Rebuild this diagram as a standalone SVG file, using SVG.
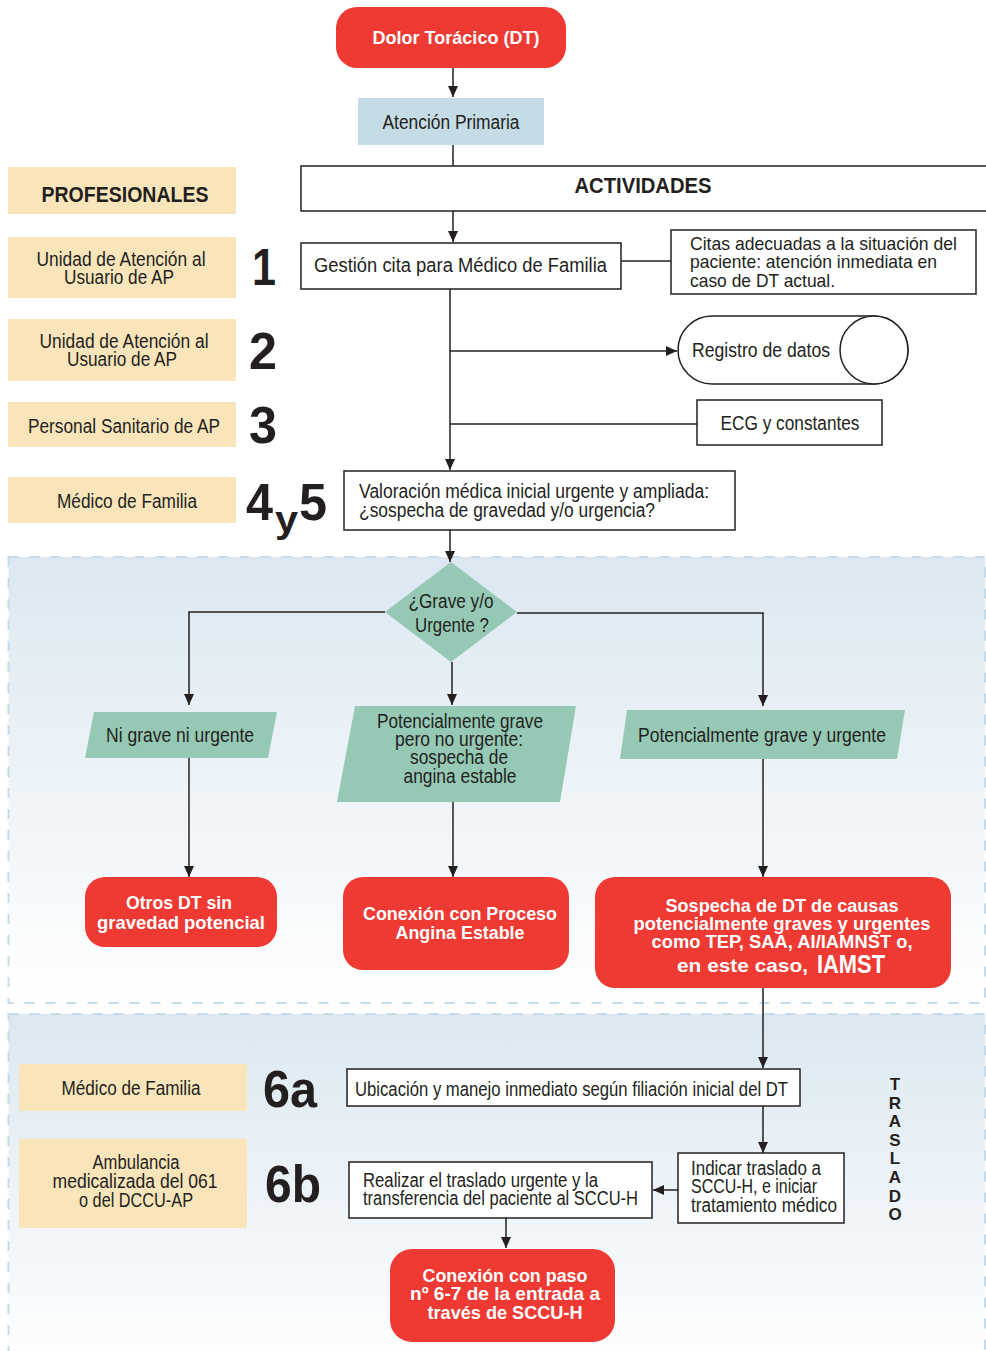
<svg xmlns="http://www.w3.org/2000/svg" width="986" height="1351" viewBox="0 0 986 1351">
<style>
.t{font-family:"Liberation Sans Narrow","Liberation Sans",Arial,sans-serif;font-size:20px;fill:#231f20}
.c{text-anchor:middle}
.bw{font-family:"Liberation Sans",Arial,sans-serif;font-weight:bold;font-size:19px;fill:#fff;text-anchor:middle}
.hb{font-family:"Liberation Sans",Arial,sans-serif;font-weight:bold;font-size:22px;fill:#231f20;text-anchor:middle}
.num{font-family:"Liberation Sans",Arial,sans-serif;font-weight:bold;font-size:52px;fill:#231f20}
.box{fill:#fff;stroke:#231f20;stroke-width:1.5}
.prof{fill:#fae5bb}
.red{fill:#ee3a33}
.green{fill:#96c9b5}
.ln{stroke:#231f20;stroke-width:1.5;fill:none}
.panel{stroke:#c4dce9;stroke-width:2;stroke-dasharray:10 11}
</style>
<defs>
<marker id="ar" markerUnits="userSpaceOnUse" markerWidth="12" markerHeight="10" refX="11" refY="5" orient="auto">
<path d="M0,0 L11,5 L0,10 z" fill="#231f20"/>
</marker>
<linearGradient id="bg" x1="0" y1="0" x2="0" y2="1">
<stop offset="0" stop-color="#dbe8f1"/>
<stop offset="1" stop-color="#ffffff"/>
</linearGradient>
</defs>
<rect width="986" height="1351" fill="#fff"/>
<g id="panels">
<rect class="panel" x="8.5" y="557" width="976.5" height="446" fill="url(#bg)"/>
<rect class="panel" x="8.5" y="1014" width="976.5" height="360" fill="url(#bg)"/>
</g>
<g id="connectors">
<path class="ln" d="M453,68 V97" marker-end="url(#ar)"/>
<path class="ln" d="M453,145 V166"/>
<path class="ln" d="M453,211 V242" marker-end="url(#ar)"/>
<path class="ln" d="M450,289 V470" marker-end="url(#ar)"/>
<path class="ln" d="M450,351 H677" marker-end="url(#ar)"/>
<path class="ln" d="M450,424 H697"/>
<path class="ln" d="M621,261 H671"/>
<path class="ln" d="M450,530 V562" marker-end="url(#ar)"/>
<path class="ln" d="M385,612 H189 V705" marker-end="url(#ar)"/>
<path class="ln" d="M517,613 H763 V706" marker-end="url(#ar)"/>
<path class="ln" d="M452,662 V705" marker-end="url(#ar)"/>
<path class="ln" d="M189,758 V877" marker-end="url(#ar)"/>
<path class="ln" d="M453,802 V877" marker-end="url(#ar)"/>
<path class="ln" d="M763,759 V877" marker-end="url(#ar)"/>
<path class="ln" d="M763,988 V1068" marker-end="url(#ar)"/>
<path class="ln" d="M763,1106 V1153" marker-end="url(#ar)"/>
<path class="ln" d="M678,1190 H653" marker-end="url(#ar)"/>
<path class="ln" d="M506,1218 V1248" marker-end="url(#ar)"/>
</g>
<g id="n-dolor">
<rect class="red" x="336" y="7" width="230" height="61" rx="21"/>
<text class="bw" x="456" y="44" textLength="167" lengthAdjust="spacingAndGlyphs">Dolor Torácico (DT)</text>
</g>
<g id="n-ap">
<rect x="358" y="98" width="186" height="47" fill="#c5dce6"/>
<text class="t c" x="451" y="129" textLength="137" lengthAdjust="spacingAndGlyphs">Atención Primaria</text>
</g>
<g id="n-actividades">
<rect class="box" x="301" y="166" width="700" height="45"/>
<text class="hb" x="643" y="193" textLength="137" lengthAdjust="spacingAndGlyphs">ACTIVIDADES</text>
</g>
<g id="n-profesionales">
<rect class="prof" x="8" y="167" width="228" height="47"/>
<text class="hb" x="125" y="202" textLength="167" lengthAdjust="spacingAndGlyphs">PROFESIONALES</text>
</g>
<g id="p1">
<rect class="prof" x="8" y="237" width="228" height="61"/>
<text class="t c" x="121" y="266" textLength="169" lengthAdjust="spacingAndGlyphs">Unidad de Atención al</text>
<text class="t c" x="119" y="284" textLength="110" lengthAdjust="spacingAndGlyphs">Usuario de AP</text>
<text class="num" x="252" y="285" textLength="24" lengthAdjust="spacingAndGlyphs">1</text>
</g>
<g id="p2">
<rect class="prof" x="8" y="319" width="228" height="62"/>
<text class="t c" x="124" y="348" textLength="169" lengthAdjust="spacingAndGlyphs">Unidad de Atención al</text>
<text class="t c" x="122" y="366" textLength="110" lengthAdjust="spacingAndGlyphs">Usuario de AP</text>
<text class="num" x="249" y="369" textLength="28" lengthAdjust="spacingAndGlyphs">2</text>
</g>
<g id="p3">
<rect class="prof" x="8" y="402" width="228" height="45"/>
<text class="t c" x="124" y="433" textLength="192" lengthAdjust="spacingAndGlyphs">Personal Sanitario de AP</text>
<text class="num" x="249" y="443" textLength="28" lengthAdjust="spacingAndGlyphs">3</text>
</g>
<g id="p4">
<rect class="prof" x="8" y="477" width="228" height="46"/>
<text class="t c" x="127" y="508" textLength="140" lengthAdjust="spacingAndGlyphs">Médico de Familia</text>
<text class="num" x="246" y="520" textLength="27" lengthAdjust="spacingAndGlyphs">4</text>
<text class="num" x="275" y="532" style="font-size:36px" textLength="23" lengthAdjust="spacingAndGlyphs">y</text>
<text class="num" x="299" y="520" textLength="28" lengthAdjust="spacingAndGlyphs">5</text>
</g>
<g id="n-gestion">
<rect class="box" x="301" y="243" width="320" height="46"/>
<text class="t" x="314" y="272" textLength="293" lengthAdjust="spacingAndGlyphs">Gestión cita para Médico de Familia</text>
</g>
<g id="n-citas">
<rect class="box" x="671" y="230" width="305" height="64"/>
<text class="t" x="690" y="250" style="font-size:19px" textLength="267" lengthAdjust="spacingAndGlyphs">Citas adecuadas a la situación del</text>
<text class="t" x="690" y="268" style="font-size:19px" textLength="247" lengthAdjust="spacingAndGlyphs">paciente: atención inmediata en</text>
<text class="t" x="690" y="287" style="font-size:19px" textLength="145" lengthAdjust="spacingAndGlyphs">caso de DT actual.</text>
</g>
<g id="n-registro">
<rect class="box" x="678" y="316" width="230" height="68" rx="34"/>
<circle class="box" cx="874" cy="350" r="34"/>
<text class="t" x="692" y="357" textLength="138" lengthAdjust="spacingAndGlyphs">Registro de datos</text>
</g>
<g id="n-ecg">
<rect class="box" x="697" y="400" width="185" height="45"/>
<text class="t c" x="790" y="430" textLength="139" lengthAdjust="spacingAndGlyphs">ECG y constantes</text>
</g>
<g id="n-valoracion">
<rect class="box" x="344" y="471" width="391" height="59"/>
<text class="t" x="359" y="498" textLength="350" lengthAdjust="spacingAndGlyphs">Valoración médica inicial urgente y ampliada:</text>
<text class="t" x="359" y="517" textLength="296" lengthAdjust="spacingAndGlyphs">¿sospecha de gravedad y/o urgencia?</text>
</g>
<g id="n-grave">
<polygon class="green" points="451,562 517,612 451,662 385,612"/>
<text class="t c" x="451" y="608" textLength="85" lengthAdjust="spacingAndGlyphs">¿Grave y/o</text>
<text class="t c" x="452" y="632" textLength="74" lengthAdjust="spacingAndGlyphs">Urgente ?</text>
</g>
<g id="n-ni">
<polygon class="green" points="94,712 277,712 268,758 85,758"/>
<text class="t c" x="180" y="742" textLength="148" lengthAdjust="spacingAndGlyphs">Ni grave ni urgente</text>
</g>
<g id="n-pot-no">
<polygon class="green" points="355,706 576,706 560,802 337,802"/>
<text class="t c" x="460" y="728" textLength="166" lengthAdjust="spacingAndGlyphs">Potencialmente grave</text>
<text class="t c" x="459" y="746" textLength="128" lengthAdjust="spacingAndGlyphs">pero no urgente:</text>
<text class="t c" x="459" y="764" textLength="98" lengthAdjust="spacingAndGlyphs">sospecha de</text>
<text class="t c" x="460" y="783" textLength="113" lengthAdjust="spacingAndGlyphs">angina estable</text>
</g>
<g id="n-pot-urg">
<polygon class="green" points="627,710 905,710 897,759 620,759"/>
<text class="t c" x="762" y="742" textLength="248" lengthAdjust="spacingAndGlyphs">Potencialmente grave y urgente</text>
</g>
<g id="n-otros">
<rect class="red" x="85" y="877" width="192" height="70" rx="20"/>
<text class="bw" x="179" y="909" textLength="106" lengthAdjust="spacingAndGlyphs">Otros DT sin</text>
<text class="bw" x="181" y="929" textLength="168" lengthAdjust="spacingAndGlyphs">gravedad potencial</text>
</g>
<g id="n-angina">
<rect class="red" x="343" y="877" width="226" height="93" rx="20"/>
<text class="bw" x="460" y="920" textLength="194" lengthAdjust="spacingAndGlyphs">Conexión con Proceso</text>
<text class="bw" x="460" y="939" textLength="129" lengthAdjust="spacingAndGlyphs">Angina Estable</text>
</g>
<g id="n-sospecha">
<rect class="red" x="595" y="877" width="356" height="111" rx="20"/>
<text class="bw" x="782" y="912" textLength="233" lengthAdjust="spacingAndGlyphs">Sospecha de DT de causas</text>
<text class="bw" x="782" y="930" textLength="297" lengthAdjust="spacingAndGlyphs">potencialmente graves y urgentes</text>
<text class="bw" x="782" y="948" textLength="261" lengthAdjust="spacingAndGlyphs">como TEP, SAA, AI/IAMNST o,</text>
<text class="bw" x="677" y="972" style="text-anchor:start" textLength="131" lengthAdjust="spacingAndGlyphs">en este caso,</text>
<text class="bw" x="817" y="973" style="text-anchor:start;font-size:26px" textLength="68" lengthAdjust="spacingAndGlyphs">IAMST</text>
</g>
<g id="p6a">
<rect class="prof" x="19" y="1064" width="228" height="47"/>
<text class="t c" x="131" y="1095" textLength="139" lengthAdjust="spacingAndGlyphs">Médico de Familia</text>
<text class="num" x="263" y="1107" textLength="54" lengthAdjust="spacingAndGlyphs">6a</text>
</g>
<g id="p6b">
<rect class="prof" x="19" y="1139" width="228" height="89"/>
<text class="t c" x="136" y="1169" textLength="87" lengthAdjust="spacingAndGlyphs">Ambulancia</text>
<text class="t c" x="135" y="1188" textLength="165" lengthAdjust="spacingAndGlyphs">medicalizada del 061</text>
<text class="t c" x="136" y="1207" textLength="114" lengthAdjust="spacingAndGlyphs">o del DCCU-AP</text>
<text class="num" x="265" y="1202" textLength="56" lengthAdjust="spacingAndGlyphs">6b</text>
</g>
<g id="n-ubicacion">
<rect class="box" x="347" y="1069" width="453" height="37"/>
<text class="t" x="355" y="1096" textLength="433" lengthAdjust="spacingAndGlyphs">Ubicación y manejo inmediato según filiación inicial del DT</text>
</g>
<g id="n-indicar">
<rect class="box" x="678" y="1153" width="166" height="70"/>
<text class="t" x="691" y="1175" textLength="130" lengthAdjust="spacingAndGlyphs">Indicar traslado a</text>
<text class="t" x="691" y="1193" textLength="126" lengthAdjust="spacingAndGlyphs">SCCU-H, e iniciar</text>
<text class="t" x="691" y="1212" textLength="146" lengthAdjust="spacingAndGlyphs">tratamiento médico</text>
</g>
<g id="n-realizar">
<rect class="box" x="349" y="1162" width="303" height="56"/>
<text class="t" x="363" y="1187" textLength="235" lengthAdjust="spacingAndGlyphs">Realizar el traslado urgente y la</text>
<text class="t" x="363" y="1205" textLength="275" lengthAdjust="spacingAndGlyphs">transferencia del paciente al SCCU-H</text>
</g>
<g id="n-conexion-paso">
<rect class="red" x="390" y="1249" width="225" height="93" rx="22"/>
<text class="bw" x="505" y="1282" textLength="165" lengthAdjust="spacingAndGlyphs">Conexión con paso</text>
<text class="bw" x="505" y="1300" textLength="190" lengthAdjust="spacingAndGlyphs">nº 6-7 de la entrada a</text>
<text class="bw" x="505" y="1319" textLength="155" lengthAdjust="spacingAndGlyphs">través de SCCU-H</text>
</g>
<g id="traslado">
<text style="font-family:'Liberation Sans',Arial,sans-serif;font-weight:bold;font-size:17px;fill:#231f20;text-anchor:middle">
<tspan x="895" y="1090">T</tspan><tspan x="895" y="1108.6">R</tspan><tspan x="895" y="1127.2">A</tspan><tspan x="895" y="1145.8">S</tspan><tspan x="895" y="1164.4">L</tspan><tspan x="895" y="1183">A</tspan><tspan x="895" y="1201.6">D</tspan><tspan x="895" y="1220.2">O</tspan>
</text>
</g>
</svg>
